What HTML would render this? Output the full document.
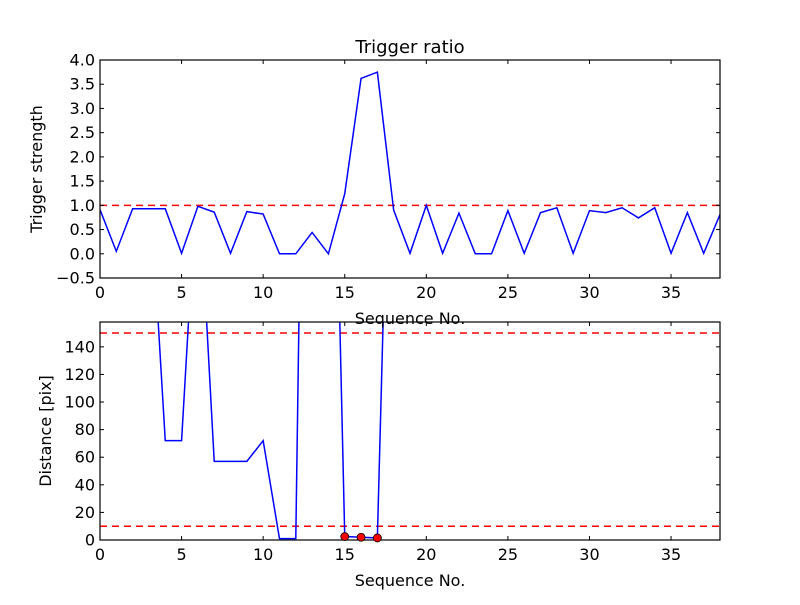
<!DOCTYPE html>
<html><head><meta charset="utf-8"><style>
body{margin:0;background:#fff;}
svg text{font-family:"DejaVu Sans","Liberation Sans",sans-serif;fill:#000;}
</style></head><body>
<svg id="chart" width="800" height="600" xmlns="http://www.w3.org/2000/svg">
<rect width="800" height="600" fill="#fff"/>
<defs>
<clipPath id="c1"><rect x="100" y="60" width="620" height="218"/></clipPath>
<clipPath id="c2"><rect x="100" y="322" width="620" height="218"/></clipPath>
</defs>
<g id="g"></g>
</svg>
<script>
const ratio=[0.91,0.05,0.93,0.93,0.93,0.01,0.98,0.86,0.01,0.87,0.82,0.0,0.0,0.44,0.0,1.24,3.62,3.75,0.9,0.01,1.0,0.01,0.84,0.0,0.0,0.89,0.01,0.85,0.95,0.01,0.89,0.85,0.95,0.74,0.95,0.01,0.85,0.01,0.81];
const dist=[300,300,300,270,72,72,275,57,57,57,72,1,1,820,517,2.5,2,1.5,446,500,500,500,500,500,500,500,500,500,500,500,500,500,500,500,500,500,500,500,500];
const markIdx=[15,16,17];
const xTicks=[0,5,10,15,20,25,30,35];
const y1Ticks=[-0.5,0,0.5,1,1.5,2,2.5,3,3.5,4];
const y1Labels=["−0.5","0.0","0.5","1.0","1.5","2.0","2.5","3.0","3.5","4.0"];
const y2Ticks=[0,20,40,60,80,100,120,140];
const ref1=[1.0];
const ref2=[10,150];

const NS="http://www.w3.org/2000/svg";
const g=document.getElementById('g');
function el(t,a,p){const e=document.createElementNS(NS,t);for(const k in a)e.setAttribute(k,a[k]);(p||g).appendChild(e);return e;}
const X=v=>100+v/38*620;
const Y1=v=>278-(v+0.5)/4.5*218;
const Y2=v=>540-v/158*218;

function axes(top,Y,ticks,labels,refs,clip,vals,ylabel,yname){
  const grp=el('g',{});
  
  
  refs.forEach(r=>{const l=el('line',{x1:100,x2:720,y1:Y(r),y2:Y(r),stroke:'#f00','stroke-width':1.5,'stroke-dasharray':'7,5'},grp);
    });
  const pts=vals.map((v,i)=>X(i)+','+Y(v)).join(' ');
  const pl=el('polyline',{points:pts,fill:'none',stroke:'#00f','stroke-width':1.5,'clip-path':'url(#'+clip+')'},grp);
  
  const fr=el('rect',{x:100,y:top,width:620,height:218,fill:'none',stroke:'#000','stroke-width':1.2},grp);
  
  xTicks.forEach(t=>{
    el('line',{x1:X(t),x2:X(t),y1:top+218,y2:top+214,stroke:'#000'},grp);
    el('line',{x1:X(t),x2:X(t),y1:top,y2:top+4,stroke:'#000'},grp);
    const tx=el('text',{x:X(t),y:top+218+20,'font-size':16,'text-anchor':'middle'},grp);tx.textContent=t;
    
  });
  ticks.forEach((t,i)=>{
    el('line',{x1:100,x2:104,y1:Y(t),y2:Y(t),stroke:'#000'},grp);
    el('line',{x1:716,x2:720,y1:Y(t),y2:Y(t),stroke:'#000'},grp);
    const tx=el('text',{x:95,y:Y(t)+5.5,'font-size':16,'text-anchor':'end'},grp);tx.textContent=labels[i];
    
  });
  const xl=el('text',{x:410,y:top+218+46,'font-size':16,'text-anchor':'middle'},grp);xl.textContent='Sequence No.';
  
  const yl=el('text',{x:0,y:0,'font-size':16,'text-anchor':'middle',transform:'translate('+(yname==='top'?42:51)+','+(top+109)+') rotate(-90)'},grp);yl.textContent=ylabel;
  
}
axes(322,Y2,y2Ticks,y2Ticks.map(String),ref2,'c2',dist,'Distance [pix]','bottom');
axes(60,Y1,y1Ticks,y1Labels,ref1,'c1',ratio,'Trigger strength','top');
markIdx.forEach(i=>{const c=el('circle',{cx:X(i),cy:Y2(dist[i]),r:4,fill:'#f00',stroke:'#000','stroke-width':0.8});
  });
const t=el('text',{x:410,y:53,'font-size':18,'text-anchor':'middle'});t.textContent='Trigger ratio';

</script>
</body></html>
